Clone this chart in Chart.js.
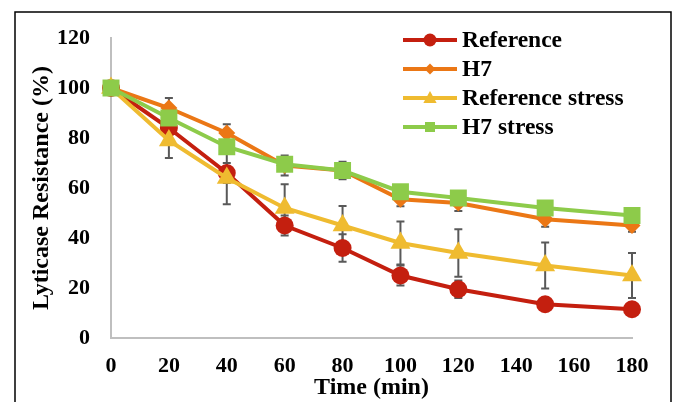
<!DOCTYPE html>
<html>
<head>
<meta charset="utf-8">
<script src="https://cdn.jsdelivr.net/npm/chart.js@4.4.1/dist/chart.umd.min.js"></script>
<style>
  html, body { margin: 0; padding: 0; background: #fff; }
  #wrap { width: 674px; height: 402px; }
</style>
</head>
<body>
<div id="wrap"><canvas id="chart" width="674" height="402"></canvas></div>
<script>
// time points (min)
const times = [0, 20, 40, 60, 80, 100, 120, 150, 180];

// lyticase resistance (%)
const reference    = [100, 84, 66, 45, 36, 25, 19.5, 13.5, 11.5];
const h7           = [100, 92, 82, 69, 67, 55.5, 54, 47.5, 45];
const refStress    = [100, 79, 64, 52, 45, 38, 34, 29, 25];
const h7Stress     = [100, 88, 76.5, 69.5, 67, 58.5, 56, 52, 49];

// error bars (+/-)
const referenceErr = [0, 3, 4, 4, 5.5, 4, 3.5, 1, 1];
const h7Err        = [0, 4, 3.5, 4, 3.5, 2.8, 3.2, 3, 2.5];
const refStressErr = [0, 7, 10.5, 9.5, 7.8, 8.6, 9.5, 9.2, 9];
const h7StressErr  = [0, 2, 2, 2, 2, 2, 2, 2, 2];

const seriesNames = ['Reference', 'H7', 'Reference stress', 'H7 stress'];
const serif = '"Liberation Serif", "Times New Roman", serif';

const RED = '#C41F0F', ORANGE = '#EB7715', YELLOW = '#EFBB30', GREEN = '#8DCB4A';

function pts(vals) {
  return vals.map((v, i) => ({ x: times[i], y: v }));
}

function series(label, vals, errs, color, style, radius, order) {
  return {
    label: label,
    data: pts(vals),
    errors: errs,
    borderColor: color,
    backgroundColor: color,
    borderWidth: 4,
    pointStyle: style,
    pointRadius: radius,
    pointBorderWidth: 0,
    pointBackgroundColor: color,
    tension: 0,
    clip: false,
    order: order
  };
}

// error bars, drawn under the series
const errorBars = {
  id: 'errorBars',
  beforeDatasetsDraw(chart) {
    const ctx = chart.ctx;
    const xs = chart.scales.x, ys = chart.scales.y;
    ctx.save();
    ctx.strokeStyle = '#595959';
    ctx.lineWidth = 2;
    chart.data.datasets.forEach(ds => {
      ds.data.forEach((p, i) => {
        const e = ds.errors[i];
        if (!e) return;
        const x = xs.getPixelForValue(p.x);
        const y1 = ys.getPixelForValue(p.y + e);
        const y2 = ys.getPixelForValue(p.y - e);
        ctx.beginPath();
        ctx.moveTo(x, y1); ctx.lineTo(x, y2);
        ctx.moveTo(x - 4, y1); ctx.lineTo(x + 4, y1);
        ctx.moveTo(x - 4, y2); ctx.lineTo(x + 4, y2);
        ctx.stroke();
      });
    });
    ctx.restore();
  }
};

function marker(ctx, style, x, y, r) {
  ctx.beginPath();
  if (style === 'circle') {
    ctx.arc(x, y, r, 0, Math.PI * 2);
  } else if (style === 'rectRot') {
    ctx.moveTo(x - r, y); ctx.lineTo(x, y - r); ctx.lineTo(x + r, y); ctx.lineTo(x, y + r);
  } else if (style === 'triangle') {
    ctx.moveTo(x, y - r); ctx.lineTo(x + r * 0.95, y + r * 0.7); ctx.lineTo(x - r * 0.95, y + r * 0.7);
  } else {
    ctx.rect(x - r, y - r, 2 * r, 2 * r);
  }
  ctx.closePath();
  ctx.fill();
}

// legend in the top right of the plot
const lineLegend = {
  id: 'lineLegend',
  afterDraw(chart) {
    const ctx = chart.ctx;
    const sizes = { circle: 6.5, rectRot: 5.5, triangle: 7, rect: 5 };
    ctx.save();
    ctx.font = 'bold 23.5px ' + serif;
    ctx.textBaseline = 'middle';
    ctx.textAlign = 'left';
    chart.data.datasets.forEach((ds, i) => {
      const y = 40 + i * 29;
      ctx.strokeStyle = ds.borderColor;
      ctx.fillStyle = ds.borderColor;
      ctx.lineWidth = 4;
      ctx.beginPath();
      ctx.moveTo(403, y); ctx.lineTo(457, y);
      ctx.stroke();
      marker(ctx, ds.pointStyle, 430, y, sizes[ds.pointStyle]);
      ctx.fillStyle = '#000';
      ctx.fillText(ds.label, 462, y + 1);
    });
    ctx.restore();
  }
};

// white page with a thin black frame
const frame = {
  id: 'frame',
  beforeDraw(chart) {
    const ctx = chart.ctx;
    ctx.save();
    ctx.fillStyle = '#fff';
    ctx.fillRect(0, 0, chart.width, chart.height);
    ctx.strokeStyle = '#000';
    ctx.lineWidth = 1.5;
    ctx.strokeRect(15, 12, 656, 400);
    ctx.restore();
  }
};

new Chart(document.getElementById('chart'), {
  type: 'line',
  data: {
    datasets: [
      series(seriesNames[0], reference, referenceErr, RED, 'circle', 9, 3),
      series(seriesNames[1], h7, h7Err, ORANGE, 'rectRot', 8.5, 2),
      series(seriesNames[2], refStress, refStressErr, YELLOW, 'triangle', 11.5, 1),
      series(seriesNames[3], h7Stress, h7StressErr, GREEN, 'rect', 12, 0)
    ]
  },
  options: {
    responsive: false,
    animation: false,
    devicePixelRatio: 1,
    layout: { padding: { left: 0, right: 42, top: 38, bottom: 0 } },
    plugins: {
      legend: { display: false },
      tooltip: { enabled: false }
    },
    scales: {
      x: {
        type: 'linear',
        min: 0,
        max: 180,
        grid: { display: false, drawTicks: false },
        border: { color: '#BFBFBF', width: 2 },
        ticks: {
          stepSize: 20,
          padding: 15,
          color: '#000',
          font: { family: serif, size: 22, weight: 'bold' }
        },
        title: {
          display: true,
          text: 'Time (min)',
          color: '#000',
          font: { family: serif, size: 24, weight: 'bold' },
          padding: { top: 0, bottom: 0 }
        },
        afterFit(scale) { scale.height = 64; }
      },
      y: {
        min: 0,
        max: 120,
        grid: { display: false, drawTicks: false },
        border: { color: '#BFBFBF', width: 2 },
        ticks: {
          stepSize: 20,
          padding: 21,
          color: '#000',
          font: { family: serif, size: 22, weight: 'bold' }
        },
        title: {
          display: true,
          text: 'Lyticase Resistance (%)',
          color: '#000',
          font: { family: serif, size: 24, weight: 'bold' },
          padding: { top: 27, bottom: 0 }
        },
        afterFit(scale) { scale.width = 111; }
      }
    }
  },
  plugins: [frame, errorBars, lineLegend]
});
</script>
</body>
</html>
